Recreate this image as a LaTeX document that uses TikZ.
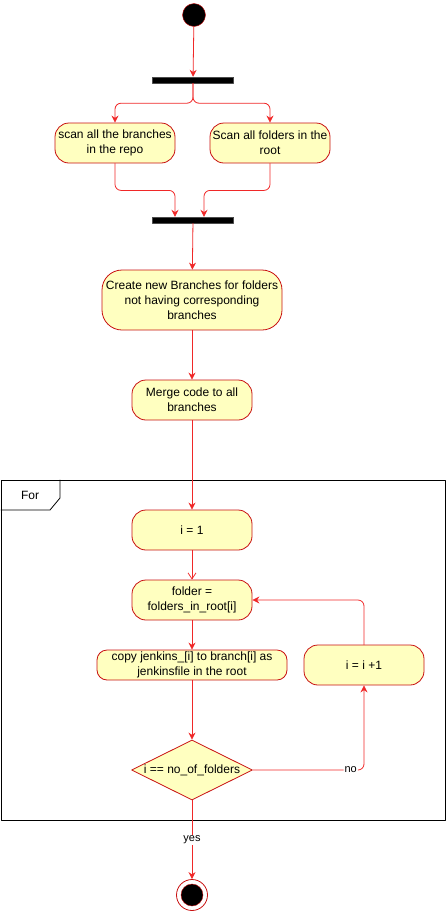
\documentclass[tikz,border=0pt]{standalone}
\usepackage{fontspec}
\setmainfont{Liberation Sans}
\usetikzlibrary{arrows.meta,shapes.geometric,calc}
\definecolor{boxred}{HTML}{C81010}
\definecolor{linered}{HTML}{F02828}
\definecolor{boxfill}{HTML}{FFFFC0}

\begin{document}
\begin{tikzpicture}[x=1pt, y=-1pt, font=\fontsize{12}{15}\selectfont, line join=round, line cap=round, >={Stealth[length=7pt,width=7pt]},
	act/.style={draw=boxred, fill=boxfill, rounded corners=14pt, align=center, inner sep=0pt, minimum width=120pt, minimum height=40pt, line width=0.8pt},
	bar/.style={fill=black, draw=black!70, minimum width=81pt, minimum height=6pt, inner sep=0pt},
	flow/.style={draw=linered, ->, line width=0.8pt},
	lbl/.style={fill=white, inner sep=1pt, font=\fontsize{11}{13}\selectfont}]
			\useasboundingbox (0,0) rectangle (446,911);
			\draw[black, line width=0.8pt] (1,480) rectangle (445,820);
			\draw[black, line width=0.8pt] (1,510) -- (50,510) -- (60,498) -- (60,480);
			\node (fortab) at (30,495) {For};
			\node[circle, fill=black, draw=boxred, minimum size=23pt, inner sep=0pt] (start) at (194,15) {};
			\node[bar] (fork) at (193,80) {};
			\node[act] (scan) at (115,143) {scan all the branches\\in the repo};
			\node[act] (scanf) at (270,143) {Scan all folders in the\\root};
			\node[bar] (join) at (193,220) {};
			\node[act, minimum width=180pt, minimum height=60pt, rounded corners=20pt] (create) at (192,300) {Create new Branches for folders\\not having corresponding\\branches};
			\node[act] (merge) at (192,400) {Merge code to all\\branches};
			\node[act] (init) at (192,530) {i = 1};
			\node[act] (folder) at (192,600) {folder =\\folders\_in\_root[i]};
			\node[act, minimum width=190pt, minimum height=30pt, rounded corners=10pt] (copy) at (192,665) {copy jenkins\_[i] to branch[i] as\\jenkinsfile in the root};
			\node[act] (incr) at (364,665) {i = i +1};
			\node[diamond, draw=boxred, fill=boxfill, aspect=2, minimum width=121pt, minimum height=60pt, inner sep=0pt, line width=0.8pt] (check) at (192,770) {i == no\_of\_folders};
			\node[circle, draw=boxred, minimum size=31pt, inner sep=0pt, line width=0.8pt] (stop) at (192,895) {};
			\node[circle, fill=black, draw=boxred, minimum size=22pt, inner sep=0pt] (stopdot) at (stop) {};
			\draw[flow] (start) -- (fork);
			\draw[flow, rounded corners=6pt] (fork.south) -- ++(0,20) -| (scan.north);
			\draw[flow, rounded corners=6pt] (fork.south) -- ++(0,20) -| (scanf.north);
			\draw[flow, rounded corners=6pt] (scan.south) -- ++(0,27) -| ($(join.north)+(-18,0)$);
			\draw[flow, rounded corners=6pt] (scanf.south) -- ++(0,27) -| ($(join.north)+(11,0)$);
			\draw[flow] (join) -- (create);
			\draw[flow] (create) -- (merge);
			\draw[flow] (merge) -- (init);
			\draw[draw=linered, line width=0.8pt, -{Straight Barb[length=6pt,width=8pt]}] (init) -- (folder);
			\draw[flow] (folder) -- (copy);
			\draw[flow] (copy) -- (check);
			\draw[flow, rounded corners=6pt] (check.east) -| node[lbl, pos=0.44] {no} (incr.south);
			\draw[flow, rounded corners=6pt] (incr.north) |- (folder.east);
			\draw[flow] (check) -- node[lbl] {yes} (stop);
		\end{tikzpicture}
\end{document}
